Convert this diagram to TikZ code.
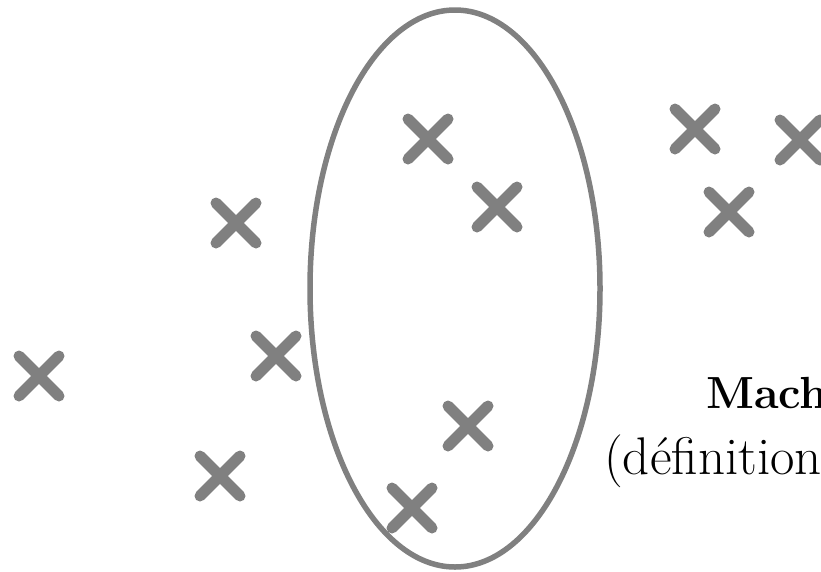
\documentclass[tikz,border=0pt]{standalone}
\usepackage{fontspec}
\definecolor{markgray}{RGB}{128,128,128}
\tikzset{
  xmark/.pic={\draw[markgray,line width=11pt,line cap=round] (-20,-20) -- (20,20) (-20,20) -- (20,-20);},
  cluster/.style={draw=markgray,line width=5.5pt},
  bigtext/.style={inner sep=0pt,font=\fontsize{53}{62}\selectfont},
  boldtext/.style={inner sep=0pt,font=\fontsize{45}{54}\selectfont\bfseries}
}
\begin{document}
\begin{tikzpicture}[x=1pt,y=-1pt]
\useasboundingbox (0,0) rectangle (821,571);
\clip (0,0) rectangle (821,571);
\draw[cluster] (455,288.5) ellipse [x radius=145, y radius=278.5];
\coordinate (pta) at (428,139);
\coordinate (ptb) at (497,207);
\coordinate (ptc) at (236,223);
\coordinate (ptd) at (276,356);
\coordinate (pte) at (39,376);
\coordinate (ptf) at (468,426);
\coordinate (ptg) at (220,476);
\coordinate (pth) at (412,508);
\coordinate (pti) at (695,129);
\coordinate (ptj) at (800,140);
\coordinate (ptk) at (729,212);
\foreach \n in {a,b,c,d,e,f,g,h,i,j,k}{
  \pic at (pt\n) {xmark};
}
\node[boldtext,anchor=base west] (title) at (706,408) {Mach};
\node[bigtext,anchor=base west] (sub) at (604,474) {(définition};
\end{tikzpicture}
\end{document}
